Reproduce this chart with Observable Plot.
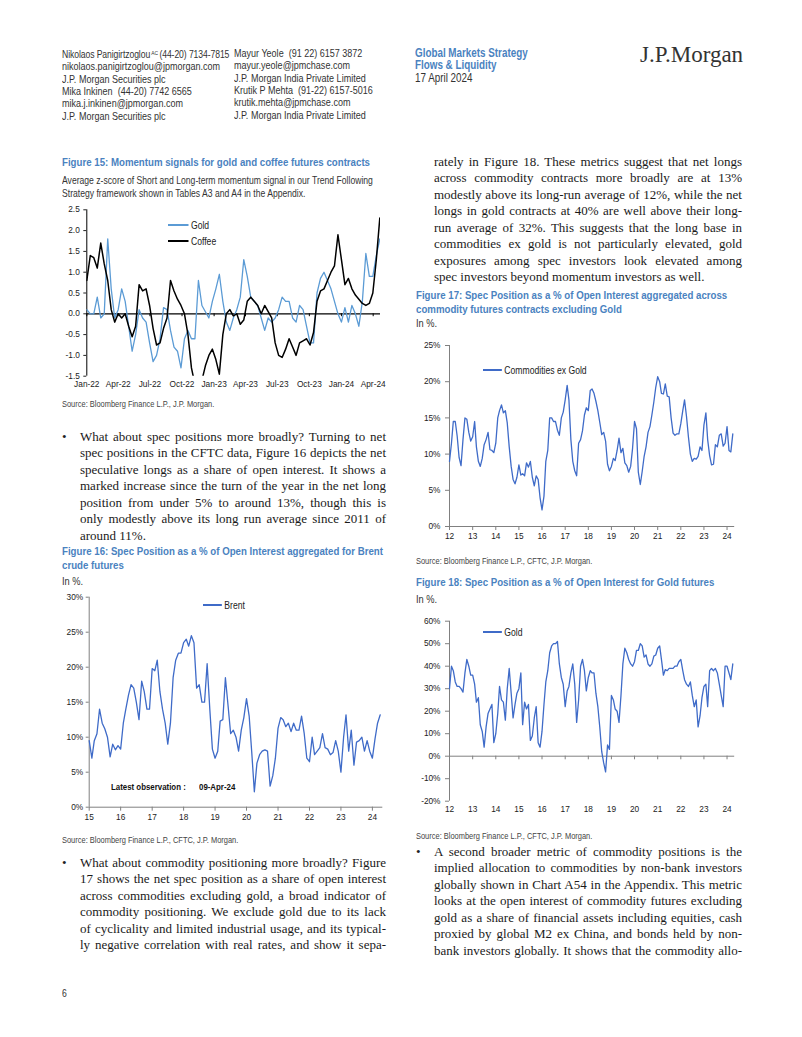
<!DOCTYPE html>
<html><head><meta charset="utf-8">
<script src="https://cdn.jsdelivr.net/npm/d3@7"></script>
<script src="https://cdn.jsdelivr.net/npm/@observablehq/plot@0.6"></script>
<style>
html,body{margin:0;padding:0;background:#fff;}
body{width:802px;height:1037px;position:relative;overflow:hidden;font-family:var(--sans,'Liberation Sans Narrow','Liberation Sans',Arial,sans-serif);color:#222;}
.abs{position:absolute;white-space:nowrap;}
.nofn .sx{transform:scaleX(0.82);transform-origin:0 50%;}
.hdr{font-size:11px;line-height:12.4px;color:#333;}
.hdr3{font-size:12px;line-height:12.8px;color:#333;}
.blue{color:#4a82c0;font-weight:bold;}
.ttl{font-weight:bold;color:#4a82c0;font-size:11.8px;line-height:14px;}
.sub{font-size:10.5px;line-height:13px;color:#333;}
.inpct{font-size:11.3px;line-height:12px;color:#333;}
.src{font-size:9.1px;line-height:11px;color:#444;}
.body{position:absolute;font-family:"Liberation Serif","Times New Roman",serif;font-size:13px;line-height:16.5px;color:#1a1a1a;}
.body .l{text-align:justify;text-align-last:justify;}
.body .last{text-align:left;text-align-last:left;}
.bul{position:absolute;font-family:"Liberation Serif",serif;font-size:13px;line-height:16.5px;}
.leg{font-size:10.5px;color:#222;}
.leg .row{display:flex;align-items:center;}
.leg .sw{flex:none;margin-right:3px;}
.logo{font-family:"Liberation Serif","Times New Roman",serif;font-size:23px;line-height:26px;color:#333;}
.obs{font-size:9.6px;font-weight:bold;line-height:12px;color:#111;}
</style>
</head>
<body>
<!-- header -->
<div class="abs hdr sx" style="left:62px;top:46.8px"><span style="font-size:10.5px;letter-spacing:-0.1px">Nikolaos Panigirtzoglou<span style="font-size:6px;vertical-align:3px;letter-spacing:0"> AC </span>(44-20) 7134-7815</span><br>nikolaos.panigirtzoglou@jpmorgan.com<br>J.P. Morgan Securities plc<br>Mika Inkinen&nbsp; (44-20) 7742 6565<br>mika.j.inkinen@jpmorgan.com<br>J.P. Morgan Securities plc</div>
<div class="abs hdr sx" style="left:234px;top:46.8px">Mayur Yeole&nbsp; (91 22) 6157 3872<br>mayur.yeole@jpmchase.com<br>J.P. Morgan India Private Limited<br>Krutik P Mehta&nbsp; (91-22) 6157-5016<br>krutik.mehta@jpmchase.com<br>J.P. Morgan India Private Limited</div>
<div class="abs hdr3 sx" style="left:415px;top:46.6px"><span class="blue">Global Markets Strategy</span><br><span class="blue">Flows &amp; Liquidity</span><br>17 April 2024</div>
<div class="abs logo" style="left:640px;top:42px">J.P.Morgan</div>

<!-- left column -->
<div class="abs ttl sx" style="left:62px;top:155px">Figure 15: Momentum signals for gold and coffee futures contracts</div>
<div class="abs sub sx" style="left:62px;top:173.5px">Average z-score of Short and Long-term momentum signal in our Trend Following<br>Strategy framework shown in Tables A3 and A4 in the Appendix.</div>
<div class="abs src sx" style="left:62px;top:398.5px">Source: Bloomberg Finance L.P., J.P. Morgan.</div>

<div class="bul" style="left:62px;top:428.75px">•</div>
<div class="body" style="left:80px;top:428.75px;width:306px">
<div class="l">What about spec positions more broadly? Turning to net</div>
<div class="l">spec positions in the CFTC data, Figure 16 depicts the net</div>
<div class="l">speculative longs as a share of open interest. It shows a</div>
<div class="l">marked increase since the turn of the year in the net long</div>
<div class="l">position from under 5% to around 13%, though this is</div>
<div class="l">only modestly above its long run average since 2011 of</div>
<div class="last">around 11%.</div>
</div>

<div class="abs ttl sx" style="left:62px;top:544px">Figure 16: Spec Position as a % of Open Interest aggregated for Brent<br>crude futures</div>
<div class="abs inpct sx" style="left:62px;top:575px">In %.</div>
<div class="abs src sx" style="left:62px;top:834.5px">Source: Bloomberg Finance L.P., CFTC, J.P. Morgan.</div>

<div class="bul" style="left:62px;top:854.75px">•</div>
<div class="body" style="left:80px;top:854.75px;width:306px">
<div class="l">What about commodity positioning more broadly? Figure</div>
<div class="l">17 shows the net spec position as a share of open interest</div>
<div class="l">across commodities excluding gold, a broad indicator of</div>
<div class="l">commodity positioning. We exclude gold due to its lack</div>
<div class="l">of cyclicality and limited industrial usage, and its typical-</div>
<div class="l">ly negative correlation with real rates, and show it sepa-</div>
</div>
<div class="abs sx" style="left:62px;top:987px;font-size:10.5px;line-height:12px;color:#333">6</div>

<!-- right column -->
<div class="body" style="left:434px;top:153.75px;width:308px">
<div class="l">rately in Figure 18. These metrics suggest that net longs</div>
<div class="l">across commodity contracts more broadly are at 13%</div>
<div class="l">modestly above its long-run average of 12%, while the net</div>
<div class="l">longs in gold contracts at 40% are well above their long-</div>
<div class="l">run average of 32%. This suggests that the long base in</div>
<div class="l">commodities ex gold is not particularly elevated, gold</div>
<div class="l">exposures among spec investors look elevated among</div>
<div class="last">spec investors beyond momentum investors as well.</div>
</div>

<div class="abs ttl sx" style="left:416px;top:288px">Figure 17: Spec Position as a % of Open Interest aggregated across<br>commodity futures contracts excluding Gold</div>
<div class="abs inpct sx" style="left:416px;top:317px">In %.</div>
<div class="abs src sx" style="left:416px;top:555.5px">Source: Bloomberg Finance L.P., CFTC, J.P. Morgan.</div>

<div class="abs ttl sx" style="left:416px;top:575px">Figure 18: Spec Position as a % of Open Interest for Gold futures</div>
<div class="abs inpct sx" style="left:416px;top:593px">In %.</div>
<div class="abs src sx" style="left:416px;top:830.5px">Source: Bloomberg Finance L.P., CFTC, J.P. Morgan.</div>

<div class="bul" style="left:416px;top:843.75px">•</div>
<div class="body" style="left:434px;top:843.75px;width:308px">
<div class="l">A second broader metric of commodity positions is the</div>
<div class="l">implied allocation to commodities by non-bank investors</div>
<div class="l">globally shown in Chart A54 in the Appendix. This metric</div>
<div class="l">looks at the open interest of commodity futures excluding</div>
<div class="l">gold as a share of financial assets including equities, cash</div>
<div class="l">proxied by global M2 ex China, and bonds held by non-</div>
<div class="l">bank investors globally. It shows that the commodity allo-</div>
</div>

<script>
// ---------------- DATA ----------------
// Figure 15: momentum z-scores, sampled every 10 days from 1 Jan 2022
const fig15Start = "2022-01-01";
const fig15StepDays = 10;
const gold15 = [0.1,0.0,0.0,0.4,-0.1,0.0,1.8,0.6,-0.1,0.1,
 0.6,0.3,-0.3,-0.9,-0.5,0.1,-0.1,-0.2,-0.7,-1.15,
 -1.0,-0.6,0.15,0.1,-0.4,-0.8,-0.9,-1.3,-0.6,-0.4,
 -0.6,-0.6,0.8,0.2,0.05,-0.1,0.3,0.6,0.95,0.3,
 -0.2,-0.4,-0.1,0.1,0.4,1.3,0.9,0.4,0.3,0.2,
 -0.1,-0.4,-0.1,-0.2,-0.1,0.1,0.4,0.3,0.3,-0.1,
 -0.2,0.2,0.1,-0.3,-0.7,-0.7,0.5,0.85,1.0,0.8,
 0.6,0.3,0.0,-0.2,0.15,-0.2,0.2,0.0,-0.3,0.3,
 1.45,0.9,0.9,1.4,1.8];
const coffee15 = [0.8,1.4,1.35,1.1,1.7,1.2,0.8,0.1,-0.2,0.0,
 -0.1,0.0,-0.3,-0.55,-0.3,0.7,0.55,0.6,0.2,-0.35,
 -0.75,-0.7,-0.35,-0.1,0.8,0.55,0.35,0.2,0.0,-0.5,
 -1.3,-1.7,-1.8,-1.6,-1.25,-1.0,-0.85,-1.1,-1.45,-0.5,
 0.0,0.1,-0.05,0.0,-0.25,-0.15,0.3,0.4,0.3,0.2,
 0.0,0.2,0.05,-0.1,-0.7,-1.0,-1.05,-0.85,-0.6,-0.8,
 -1.0,-0.7,-0.65,-0.6,-0.75,-0.45,0.3,0.55,0.6,0.8,
 1.0,1.15,1.9,1.3,0.7,0.85,0.6,0.45,0.35,0.25,
 0.2,0.25,0.5,1.3,2.3];
const fig15YTicks = [-1.5,-1.0,-0.5,0.0,0.5,1.0,1.5,2.0,2.5];

// Figure 16: Brent spec position % of OI, monthly from Jan 2015
const brentStartYear = 2015;
const brent16 = [9.5,7.0,9.5,10.5,14,12,11.2,10,7.2,9,8.2,8.8,
 8.3,12,14,16,17.5,17,15,12.5,18,16.5,14,14,
 19.8,19.5,21,16.5,14,12,9,12,18.5,21,22,22,
 23.5,24,23,24.5,23.5,17,17.5,15,15,20.5,14,8.3,
 7,8,12.3,12.5,18.5,14.5,10.5,11,10,8,11,12.8,
 15.5,13,8,2.2,6.3,7.5,8,8.2,8,3,4.5,7,
 11.3,12.8,12.5,11.5,12,10.8,12,11,11,13,10.5,7,
 6.5,10,7.5,8,8.5,10.5,8.5,8.3,7.5,7.8,9.5,8,
 5,10,13.2,8,11,6,9.3,9.5,10,8,9.5,8,
 7,9.8,12,13.2];

// Figure 17: commodities ex gold, monthly from Jan 2012
const commStartYear = 2012;
const comm17 = [9,11.5,14.5,14.5,12.5,9.5,8.4,12,15,14.8,13,11.8,
 12.4,14.5,11,9,8.3,9.4,11.3,12,13,10.6,10.5,10.2,
 11.5,15,16,16.8,15.7,16,14.3,11,8.3,6.5,5.9,6.8,
 8.5,7.1,7.3,7,8.8,8.2,9,6.8,5.6,7,6.5,4,
 2.3,4.2,9,10.5,15,15,14.5,14.5,13.3,12.6,15,15.8,
 17.5,19.5,17.5,12,9,7.7,7,11.5,12,13.2,15.4,16.4,
 16,18.8,19,18.4,17.3,16,14.4,12.7,13,11.8,8.6,7.7,
 8.3,9.4,9.1,10.5,12.2,10.2,10.8,8.8,8.4,7.5,8.3,10.8,
 14.5,13.5,7.5,5.8,7.6,9.7,11,13,13.8,15.4,17.2,19.2,
 20.7,20,18.4,18.3,19.7,18,17.9,15,12.9,12.6,12.8,12.8,
 14.2,16,17.5,15.2,12.4,10,9,9.4,9.3,9.7,11,10.5,
 14,15.7,12,9.8,8.5,8.6,11.3,11,12.6,12.8,11.1,11.5,
 13.8,10.5,10.3,12.8];

// Figure 18: gold, monthly from Jan 2012
const gold18 = [30,40,38,33,31,31,30,28.5,37,43,40,36,
 36,32,24,26,14,11,4,13,19,21,23,6,
 10,19,31,25,24,16,30,39,28,17,23,28,
 30,37,14,24,21,23,7,9,17,22,6,4,
 11,23,33,38,46,49,50,50,51,41,35,32,
 22,29,31,37,41,32,15,25,40,43,38,29,
 35,38,37,37,28,22,13,2,-3,-7,5,3,
 27,25,21,20,15,27,41,48,46,43,41,40,
 42,47,47,50,49,44,45,41,40,41,44.5,45,
 48,49,43,36,38.5,38,39,39,39,40,40,42,
 43,38,34,32,31,33,27,22,25,13,18,26,
 31,32,22,38,39,38,39,37,32,27,22,40,
 40,37,34,41];

// ---------------- FONTS ----------------
const hasNarrow = (() => {
  try {
    const c = document.createElement("canvas").getContext("2d");
    const s = "Nikolaos Panigirtzoglou 0123456789";
    c.font = "20px monospace"; const a = c.measureText(s).width;
    c.font = "20px 'Liberation Sans Narrow', monospace"; const b = c.measureText(s).width;
    return Math.abs(a - b) > 0.5;
  } catch (e) { return false; }
})();
const SANS = hasNarrow ? "'Liberation Sans Narrow','Arial Narrow',sans-serif" : "'Liberation Sans',Arial,sans-serif";
document.body.style.setProperty("--sans", SANS);
if (!hasNarrow) document.body.classList.add("nofn");
const FS = hasNarrow ? 10 : 8.3;
const plotStyle = {fontFamily: SANS, fontSize: FS + "px", color: "#222", background: "transparent", overflow: "visible"};

function place(el, left, top) {
  el.style.position = "absolute"; el.style.left = left + "px"; el.style.top = top + "px";
  document.body.appendChild(el);
}
function legend(left, top, items) {
  const d = document.createElement("div");
  d.className = "abs leg sx";
  d.innerHTML = items.map(it => `<div class="row" style="height:${it.h}px"><span class="sw" style="width:${it.w}px;height:0;border-top:${it.sw}px solid ${it.color}"></span><span>${it.label}</span></div>`).join("");
  place(d, left, top);
}

// ---------------- FIGURE 15 ----------------
const t15 = new Date(fig15Start + "T00:00:00");
const d15 = gold15.map((g, i) => ({date: d3.timeDay.offset(t15, fig15StepDays * i), gold: g, coffee: coffee15[i]}));
const q15 = d3.timeMonth.every(3).range(new Date(2022, 0, 1), new Date(2024, 4, 1));
const p15 = Plot.plot({
  width: 340, height: 200,
  marginLeft: 31.3, marginRight: 15, marginTop: 9.3, marginBottom: 24.3,
  style: plotStyle,
  x: {type: "time", domain: [new Date(2022, 0, 1), new Date(2024, 3, 22)], label: null},
  y: {domain: [-1.5, 2.5], label: null},
  marks: [
    Plot.ruleY([0], {stroke: "#000", strokeWidth: 1.2}),
    Plot.ruleX(q15, {x: d => d, y1: 0, y2: -0.07, stroke: "#000"}),
    Plot.ruleX([new Date(2022, 0, 1)], {stroke: "#000"}),
    Plot.axisY({ticks: fig15YTicks, tickFormat: v => v.toFixed(1), tickSize: 3, tickPadding: 4, label: null}),
    Plot.axisX({ticks: q15, tickFormat: d3.timeFormat("%b-%y"), tickSize: 0, tickPadding: 5, label: null}),
    Plot.line(d15, {x: "date", y: "gold", stroke: "#5b9bd5", strokeWidth: 1.3, clip: true}),
    Plot.line(d15, {x: "date", y: "coffee", stroke: "#000", strokeWidth: 1.5, clip: true})
  ]
});
place(p15, 55, 200);
legend(168, 216.5, [{label: "Gold", color: "#5b9bd5", w: 25, sw: 2, h: 16.5}, {label: "Coffee", color: "#000", w: 25, sw: 2, h: 16.5}]);

// ---------------- FIGURE 16 ----------------
const d16 = brent16.map((v, k) => ({date: new Date(brentStartYear, k, 1), v}));
const yrs16 = d3.timeYear.range(new Date(2015, 0, 1), new Date(2024, 1, 1));
const p16 = Plot.plot({
  width: 340, height: 240,
  marginLeft: 33.7, marginRight: 12.7, marginTop: 11.7, marginBottom: 18.3,
  style: plotStyle,
  x: {type: "time", domain: [new Date(2015, 0, 1), new Date(2024, 4, 1)], label: null},
  y: {domain: [0, 30], label: null},
  marks: [
    Plot.ruleX([new Date(2015, 0, 1)], {stroke: "#808080"}),
    Plot.ruleY([0], {stroke: "#808080"}),
    Plot.axisY({ticks: d3.range(0, 31, 5), tickFormat: v => v + "%", tickSize: 3, tickPadding: 3, stroke: "#808080", label: null}),
    Plot.axisX({ticks: yrs16, tickFormat: d3.timeFormat("%y"), tickSize: 4, tickPadding: 3, stroke: "#808080", label: null}),
    Plot.line(d16, {x: "date", y: "v", stroke: "#3f6bc8", strokeWidth: 1.3})
  ]
});
place(p16, 55, 585);
legend(203, 599, [{label: "Brent", color: "#3f6bc8", w: 23, sw: 2, h: 12}]);
(() => {
  const a = document.createElement("div"); a.className = "abs obs sx"; a.textContent = "Latest observation :"; place(a, 111, 781);
  const b = document.createElement("div"); b.className = "abs obs sx"; b.textContent = "09-Apr-24"; place(b, 199, 781);
})();

// ---------------- FIGURE 17 ----------------
const d17 = comm17.map((v, k) => ({date: new Date(commStartYear, k, 1), v}));
const yrs17 = d3.timeYear.range(new Date(2012, 0, 1), new Date(2024, 1, 1));
const p17 = Plot.plot({
  width: 340, height: 210,
  marginLeft: 39, marginRight: 15.8, marginTop: 10, marginBottom: 19,
  style: plotStyle,
  x: {type: "time", domain: [new Date(2012, 0, 1), new Date(2024, 4, 1)], label: null},
  y: {domain: [0, 25], label: null},
  marks: [
    Plot.ruleX([new Date(2012, 0, 1)], {stroke: "#808080"}),
    Plot.ruleY([0], {stroke: "#808080"}),
    Plot.axisY({ticks: d3.range(0, 26, 5), tickFormat: v => v + "%", tickSize: 4, tickPadding: 5, stroke: "#808080", label: null}),
    Plot.axisX({ticks: yrs17, tickFormat: d3.timeFormat("%y"), tickSize: 4, tickPadding: 3, stroke: "#808080", label: null}),
    Plot.line(d17, {x: "date", y: "v", stroke: "#3f6bc8", strokeWidth: 1.3})
  ]
});
place(p17, 410, 335);
legend(483, 364, [{label: "Commodities ex Gold", color: "#3f6bc8", w: 23, sw: 2, h: 12}]);

// ---------------- FIGURE 18 ----------------
const d18 = gold18.map((v, k) => ({date: new Date(commStartYear, k, 1), v}));
const p18 = Plot.plot({
  width: 340, height: 210,
  marginLeft: 39, marginRight: 15.8, marginTop: 10.7, marginBottom: 19.3,
  style: plotStyle,
  x: {type: "time", domain: [new Date(2012, 0, 1), new Date(2024, 4, 1)], label: null},
  y: {domain: [-20, 60], label: null},
  marks: [
    Plot.ruleX([new Date(2012, 0, 1)], {stroke: "#808080"}),
    Plot.ruleY([0], {stroke: "#808080"}),
    Plot.ruleX(yrs17, {x: d => d, y1: 0, y2: -1.6, stroke: "#808080"}),
    Plot.axisY({ticks: d3.range(-20, 61, 10), tickFormat: v => v + "%", tickSize: 4, tickPadding: 5, stroke: "#808080", label: null}),
    Plot.axisX({ticks: yrs17, tickFormat: d3.timeFormat("%y"), tickSize: 0, tickPadding: 5, label: null}),
    Plot.line(d18, {x: "date", y: "v", stroke: "#3f6bc8", strokeWidth: 1.3})
  ]
});
place(p18, 410, 610);
legend(483, 626, [{label: "Gold", color: "#3f6bc8", w: 23, sw: 2, h: 12}]);
</script>
</body></html>
